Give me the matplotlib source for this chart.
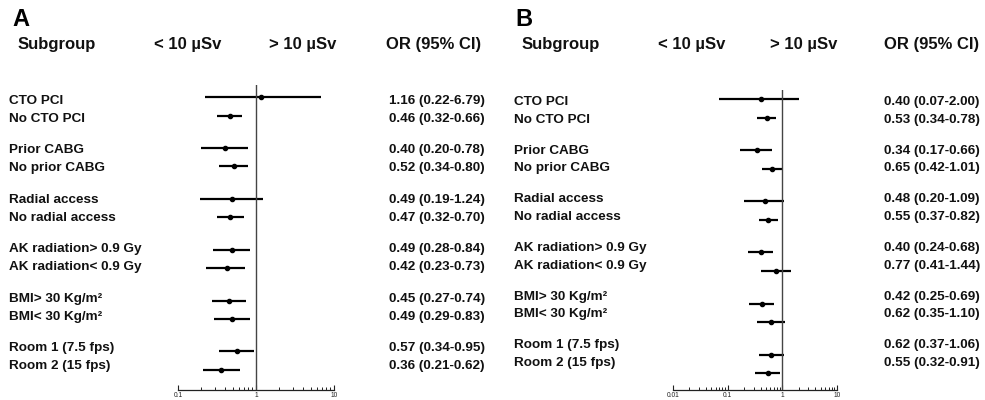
import matplotlib
matplotlib.use("Agg")
import matplotlib.pyplot as plt
from matplotlib.ticker import LogLocator, NullFormatter

plt.rcParams['font.family'] = ['Liberation Sans', 'DejaVu Sans']

subgroups = ["CTO PCI", "No CTO PCI", "Prior CABG", "No prior CABG",
             "Radial access", "No radial access",
             "AK radiation> 0.9 Gy", "AK radiation< 0.9 Gy",
             "BMI> 30 Kg/m²", "BMI< 30 Kg/m²",
             "Room 1 (7.5 fps)", "Room 2 (15 fps)"]

or_a = [1.16, 0.46, 0.40, 0.52, 0.49, 0.47, 0.49, 0.42, 0.45, 0.49, 0.57, 0.36]
lo_a = [0.22, 0.32, 0.20, 0.34, 0.19, 0.32, 0.28, 0.23, 0.27, 0.29, 0.34, 0.21]
hi_a = [6.79, 0.66, 0.78, 0.80, 1.24, 0.70, 0.84, 0.73, 0.74, 0.83, 0.95, 0.62]

or_b = [0.40, 0.53, 0.34, 0.65, 0.48, 0.55, 0.40, 0.77, 0.42, 0.62, 0.62, 0.55]
lo_b = [0.07, 0.34, 0.17, 0.42, 0.20, 0.37, 0.24, 0.41, 0.25, 0.35, 0.37, 0.32]
hi_b = [2.00, 0.78, 0.66, 1.01, 1.09, 0.82, 0.68, 1.44, 0.69, 1.10, 1.06, 0.91]

ticks_a = [0.1, 1, 10]
ticklabels_a = ["0.1", "1", "10"]
ticks_b = [0.01, 0.1, 1, 10]
ticklabels_b = ["0.01", "0.1", "1", "10"]

headers = ["Subgroup", "< 10 µSv", "> 10 µSv", "OR (95% CI)"]

W, H = 985, 400
fig = plt.figure(figsize=(W / 100, H / 100), dpi=100)


def fy(px):
    return 1 - px / H


def fx(px):
    return px / W


def row_pos(i, gap=2.75):
    return (i // 2) * gap + (i % 2)


def panel(letter, x_letter, ors, los, his, ticks, ticklabels,
          ax_left, ax_right, ax_top, mk_start, mk_unit,
          txt_start, txt_unit, x_label, x_or, hdr_x):
    ax_bottom = 390
    ax = fig.add_axes([fx(ax_left), fy(ax_bottom), fx(ax_right - ax_left),
                       (ax_bottom - ax_top) / H])
    ax.set_xscale('log')
    ax.set_xlim(ticks[0], ticks[-1])
    r_top = (ax_top - mk_start) / mk_unit
    r_bot = (ax_bottom - mk_start) / mk_unit
    ax.set_ylim(r_bot, r_top)
    rows = [row_pos(i) for i in range(len(ors))]
    for r, o, l, h in zip(rows, ors, los, his):
        ax.plot([l, h], [r, r], color='black', lw=1.6, solid_capstyle='butt')
        ax.plot([o], [r], 'o', color='black', ms=3.0)
    ax.axvline(1, color='#444444', lw=1.0)
    for s in ['left', 'right', 'top']:
        ax.spines[s].set_visible(False)
    ax.spines['bottom'].set_linewidth(0.9)
    ax.spines['bottom'].set_color('#222222')
    ax.set_yticks([])
    ax.set_xticks(ticks)
    ax.set_xticklabels(ticklabels)
    ax.xaxis.set_minor_locator(LogLocator(base=10, subs=range(2, 10)))
    ax.xaxis.set_minor_formatter(NullFormatter())
    ax.tick_params(axis='x', which='major', direction='in', length=3.5,
                   width=0.8, labelsize=4.8, pad=1.5, colors='#222222')
    ax.tick_params(axis='x', which='minor', direction='in', length=2.0,
                   width=0.7, colors='#222222')

    fig.text(fx(x_letter), fy(19), letter, fontsize=17, fontweight='bold',
             ha='left', va='center')
    fig.text(fx(hdr_x[0]), fy(45), headers[0], fontsize=12, fontweight='bold',
             ha='left', va='center', color='#111111')
    fig.text(fx(hdr_x[1]), fy(45), headers[1], fontsize=12, fontweight='bold',
             ha='center', va='center', color='#111111')
    fig.text(fx(hdr_x[2]), fy(45), headers[2], fontsize=12, fontweight='bold',
             ha='center', va='center', color='#111111')
    fig.text(fx(hdr_x[3]), fy(45), headers[3], fontsize=12, fontweight='bold',
             ha='left', va='center', color='#111111')

    for r, name, o, l, h in zip(rows, subgroups, ors, los, his):
        ty = txt_start + r * txt_unit
        fig.text(fx(x_label), fy(ty), name, fontsize=9.7, fontweight='bold',
                 ha='left', va='center', color='#111111')
        fig.text(fx(x_or), fy(ty), f"{o:.2f} ({l:.2f}-{h:.2f})", fontsize=9.7,
                 fontweight='bold', ha='left', va='center', color='#111111')


panel("A", 12, or_a, lo_a, hi_a, ticks_a, ticklabels_a,
      178, 334, 85, 97, 18.5, 101, 17.97, 9, 389, [18, 188, 303, 386])
panel("B", 515, or_b, lo_b, hi_b, ticks_b, ticklabels_b,
      673, 837, 90, 99, 18.6, 102, 17.7, 514, 884, [522, 692, 804, 884])

fig.savefig("out.png", dpi=100)
